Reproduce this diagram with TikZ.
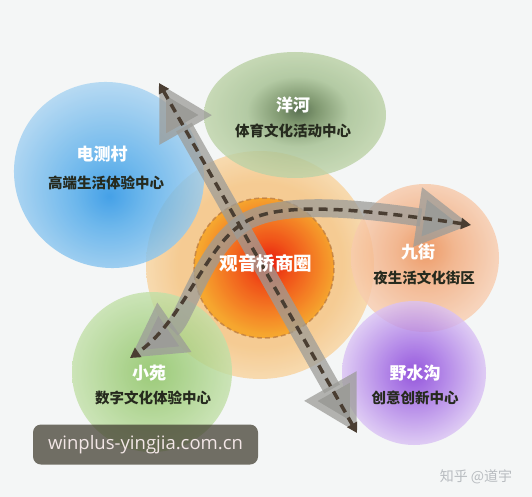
\documentclass[tikz,border=0pt]{standalone}
\usepackage{fontspec}
\setmainfont{Open Sans}
\newfontfamily\cjk{Noto Sans CJK SC}
\usetikzlibrary{arrows.meta}
\definecolor{bgc}{HTML}{F4F6F6}
\definecolor{bA}{HTML}{1A8CE4}
\definecolor{bB}{HTML}{4CA8EA}
\definecolor{bC}{HTML}{AAD4F2}
\definecolor{gA}{HTML}{34502A}
\definecolor{gB}{HTML}{62804E}
\definecolor{gC}{HTML}{A4C090}
\definecolor{gD}{HTML}{BCD2A6}
\definecolor{oA}{HTML}{F6C482}
\definecolor{oB}{HTML}{F8D6A4}
\definecolor{rA}{HTML}{E81408}
\definecolor{rB}{HTML}{F04A12}
\definecolor{rC}{HTML}{F7A62A}
\definecolor{pA}{HTML}{EC8444}
\definecolor{pB}{HTML}{F2A878}
\definecolor{pC}{HTML}{F8CCAE}
\definecolor{uA}{HTML}{7E30D6}
\definecolor{uB}{HTML}{A26AE4}
\definecolor{uC}{HTML}{DAC2F4}
\definecolor{lA}{HTML}{86C05A}
\definecolor{lB}{HTML}{C2E0A8}
\definecolor{bandc}{HTML}{9C9C98}
\definecolor{dashc}{HTML}{4A3E32}
\definecolor{subc}{HTML}{262A1E}
\definecolor{wmbox}{HTML}{3E3A2C}
\definecolor{wmtext}{HTML}{F2E6E6}
\definecolor{zhc}{HTML}{B8BCC0}
\definecolor{rimc}{HTML}{B87840}
\pgfdeclareradialshading{shBlue}{\pgfpoint{0bp}{-5bp}}{color(0bp)=(bA); color(8bp)=(bB); color(25bp)=(bC); color(50bp)=(bC)}
\pgfdeclareradialshading{shGreen}{\pgfpoint{1bp}{2bp}}{color(0bp)=(gA); color(5bp)=(gB); color(14bp)=(gC); color(25bp)=(gD); color(50bp)=(gD)}
\pgfdeclareradialshading{shBig}{\pgfpoint{0bp}{0bp}}{color(0bp)=(oA); color(18bp)=(oA); color(25bp)=(oB); color(50bp)=(oB)}
\pgfdeclareradialshading{shInner}{\pgfpoint{2bp}{2bp}}{color(0bp)=(rA); color(8bp)=(rB); color(25bp)=(rC); color(50bp)=(rC)}
\pgfdeclareradialshading{shPeach}{\pgfpoint{0bp}{3bp}}{color(0bp)=(pA); color(10bp)=(pB); color(25bp)=(pC); color(50bp)=(pC)}
\pgfdeclareradialshading{shPurple}{\pgfpoint{0bp}{0bp}}{color(0bp)=(uA); color(10bp)=(uB); color(25bp)=(uC); color(50bp)=(uC)}
\pgfdeclareradialshading{shLG}{\pgfpoint{0bp}{0bp}}{color(0bp)=(lA); color(25bp)=(lB); color(50bp)=(lB)}
\tikzset{
  BigT/.tip={Triangle[width=56pt,length=54pt]},
  SmallT/.tip={Triangle[width=11pt,length=10pt]},
  blob/.style={fill opacity=0.8},
  title/.style={font=\cjk\bfseries\fontsize{17}{17}\selectfont, text=white, inner sep=0pt},
  sub/.style={font=\cjk\bfseries\fontsize{14.5}{14.5}\selectfont, text=subc, inner sep=0pt},
  band/.style={draw=bandc, line width=18pt, draw opacity=0.75},
  dashline/.style={draw=dashc, line width=3.5pt, dash pattern=on 9pt off 6pt},
}
\begin{document}
\begin{tikzpicture}[x=1pt,y=-1pt]
\useasboundingbox (0,0) rectangle (532,497);
\fill[bgc] (0,0) rectangle (532,497);
% big orange circle
\shade[shading=shBig, fill opacity=0.85] (260,265) circle (114);
% satellites
\shade[blob, shading=shBlue, rotate around={-30:(109,175)}] (109,175) ellipse (96 and 92);
\shade[blob, shading=shGreen] (295,115) ellipse (91 and 63);
\shade[blob, shading=shPeach] (425,258) circle (74);
\shade[blob, shading=shPurple] (414,373) circle (72);
\shade[blob, shading=shLG] (152,372) circle (80);
% inner circle
\shade[shading=shInner, fill opacity=0.95] (264,268) circle (70);
\draw[draw=rimc, line width=1.5pt, dash pattern=on 5pt off 3pt, draw opacity=0.7] (264,268) circle (70);
% arrow coordinates
\coordinate (a1s) at (159,83);
\coordinate (a1e) at (357,433);
\coordinate (c0) at (130,358);
\coordinate (cm) at (245,222);
\coordinate (c1) at (471,225);
% bands
\draw[band, BigT-BigT] (a1s) -- (a1e);
\draw[band, BigT-BigT] (c1) .. controls (330,204) and (275,205) .. (cm) .. controls (205,245) and (185,320) .. (c0);
% dashed center lines
\draw[dashline, SmallT-SmallT] (a1s) -- (a1e);
\draw[dashline, SmallT-SmallT] (c1) .. controls (330,204) and (275,205) .. (cm) .. controls (205,245) and (185,320) .. (c0);
% labels
\node[title] (t1) at (102,154) {电测村};
\node[sub] (s1) at (106,183) {高端生活体验中心};
\node[title] (t2) at (293,105) {洋河};
\node[sub] (s2) at (293,131) {体育文化活动中心};
\node[title, font=\cjk\bfseries\fontsize{18.5}{18.5}\selectfont] (t3) at (266,263) {观音桥商圈};
\node[title] (t4) at (418,252) {九街};
\node[sub] (s4) at (424,278) {夜生活文化街区};
\node[title] (t5) at (415,373) {野水沟};
\node[sub] (s5) at (415,398) {创意创新中心};
\node[title] (t6) at (149,373) {小苑};
\node[sub] (s6) at (153,398) {数字文化体验中心};
% watermark
\node[fill=wmbox, fill opacity=0.72, text opacity=1, rounded corners=8pt, minimum width=225pt, minimum height=40pt, inner sep=0pt, text=wmtext, font=\fontsize{18.5}{18.5}\selectfont] (wm) at (145.5,444.5) {winplus-yingjia.com.cn};
\node[text=zhc, font=\cjk\fontsize{14}{14}\selectfont, inner sep=0pt] (zh) at (476,477) {知乎 @道宇};
\end{tikzpicture}
\end{document}
